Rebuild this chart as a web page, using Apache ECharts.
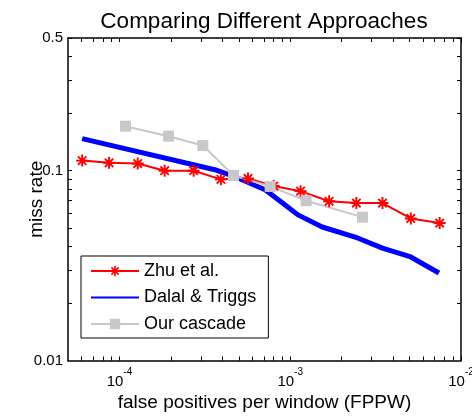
<!DOCTYPE html>
<html>
<head>
<meta charset="utf-8">
<script src="https://cdn.jsdelivr.net/npm/echarts@6/dist/echarts.min.js"></script>
<style>html,body{margin:0;padding:0;background:#fff}#c{width:472px;height:416px}</style>
</head>
<body>
<div id="c"></div>
<script>
// ---- data ----
const zhuX = [6.05e-5, 8.7e-5, 1.28e-4, 1.84e-4, 2.72e-4, 3.93e-4, 5.66e-4, 8.0e-4, 1.15e-3, 1.69e-3, 2.44e-3, 3.47e-3, 5.08e-3, 7.5e-3];
const zhuY = [0.113, 0.110, 0.109, 0.100, 0.100, 0.090, 0.091, 0.083, 0.078, 0.069, 0.0675, 0.0675, 0.056, 0.053];
const dalalX = [6.05e-5, 3.62e-4, 4.75e-4, 7.13e-4, 8.98e-4, 1.11e-3, 1.54e-3, 2.48e-3, 3.47e-3, 5.08e-3, 7.43e-3];
const dalalY = [0.1476, 0.1012, 0.0929, 0.0793, 0.0677, 0.0585, 0.0505, 0.0442, 0.0391, 0.0351, 0.0289];
const cascadeX = [1.085e-4, 1.94e-4, 3.08e-4, 4.66e-4, 7.63e-4, 1.24e-3, 2.65e-3];
const cascadeY = [0.1716, 0.152, 0.1356, 0.0944, 0.0826, 0.0694, 0.0569];
const seriesNames = ['Zhu et al.', 'Dalal & Triggs', 'Our cascade'];
const xLabelValues = [1e-4, 1e-3, 1e-2];
const yLabelValues = [0.01, 0.1, 0.5];
const xTickValues = [6e-5, 7e-5, 8e-5, 9e-5, 1e-4, 2e-4, 3e-4, 4e-4, 5e-4, 6e-4, 7e-4, 8e-4, 9e-4, 1e-3, 2e-3, 3e-3, 4e-3, 5e-3, 6e-3, 7e-3, 8e-3, 9e-3, 1e-2];
const yTickValues = [0.02, 0.03, 0.04, 0.05, 0.06, 0.07, 0.08, 0.09, 0.1, 0.2, 0.3, 0.4, 0.5];
const xMin = 5e-5, xMax = 1e-2, yMin = 0.01, yMax = 0.5;

const FONT = '"Liberation Sans", Arial, Helvetica, sans-serif';
const pair = (xs, ys) => xs.map((x, i) => [x, ys[i]]);
const asterisk = 'path://M0 8.4L20 8.4L20 11.6L0 11.6Z M8.4 0L11.6 0L11.6 20L8.4 20Z M1.9 4.1L4.1 1.9L18.1 15.9L15.9 18.1Z M15.9 1.9L18.1 4.1L4.1 18.1L1.9 15.9Z';

function xAx(pos, labels) {
  return {
    type: 'log', logBase: 10, min: xMin, max: xMax, position: pos,
    axisLine: { show: true, onZero: false, lineStyle: { color: '#000', width: 1.5 } },
    axisTick: { show: true, inside: true, length: 4, customValues: xTickValues, lineStyle: { color: '#000', width: 1 } },
    minorTick: { show: false }, splitLine: { show: false },
    axisLabel: labels ? {
      show: true, customValues: xLabelValues, margin: 7, color: '#000', fontFamily: FONT,
      hideOverlap: false,
      formatter: v => '{b|10}{s|' + Math.round(Math.log10(v)) + '}',
      rich: {
        b: { fontSize: 15, fontFamily: FONT, color: '#000', lineHeight: 22, verticalAlign: 'bottom' },
        s: { fontSize: 10, fontFamily: FONT, color: '#000', lineHeight: 14, verticalAlign: 'top' }
      }
    } : { show: false },
    name: labels ? 'false positives per window (FPPW)' : '', nameLocation: 'middle', nameGap: 33,
    nameMoveOverlap: false,
    nameTextStyle: { fontSize: 19, fontFamily: FONT, color: '#000' }
  };
}
function yAx(pos, labels) {
  return {
    type: 'log', logBase: 10, min: yMin, max: yMax, position: pos,
    axisLine: { show: true, onZero: false, lineStyle: { color: '#000', width: 1.5 } },
    axisTick: { show: true, inside: true, length: 4, customValues: yTickValues, lineStyle: { color: '#000', width: 1 } },
    minorTick: { show: false }, splitLine: { show: false },
    axisLabel: labels ? {
      show: true, customValues: yLabelValues, margin: 5, color: '#000', fontSize: 15, fontFamily: FONT,
      formatter: v => String(+(+v).toPrecision(2))
    } : { show: false },
    name: labels ? 'miss rate' : '', nameLocation: 'middle', nameGap: 22, nameRotate: 90,
    nameMoveOverlap: false,
    nameTextStyle: { fontSize: 19, fontFamily: FONT, color: '#000' }
  };
}

const chart = echarts.init(document.getElementById('c'), null, { renderer: 'canvas' });
chart.setOption({
  animation: false,
  backgroundColor: '#fff',
  title: {
    text: 'Comparing Different Approaches', left: 259, top: 5, textAlign: 'center',
    textStyle: { fontSize: 22.5, fontWeight: 'normal', fontFamily: FONT, color: '#000' }
  },
  grid: { left: 68, right: 11, top: 38, bottom: 55.5, containLabel: false, outerBoundsMode: 'none' },
  xAxis: [xAx('bottom', true), xAx('top', false)],
  yAxis: [yAx('left', true), yAx('right', false)],
  legend: {
    orient: 'vertical', left: 81, top: 256,
    padding: [5, 12, 4, 9], itemGap: 6.5, itemWidth: 48, itemHeight: 13,
    backgroundColor: '#fff', borderColor: '#000', borderWidth: 1, borderRadius: 0,
    textStyle: { fontSize: 18, fontFamily: FONT, color: '#000', lineHeight: 20 },
    data: [
      { name: seriesNames[0] },
      { name: seriesNames[1], itemStyle: { color: 'rgba(0,0,0,0)', borderWidth: 0, opacity: 0 } },
      { name: seriesNames[2] }
    ]
  },
  series: [
    {
      name: seriesNames[0], type: 'line', xAxisIndex: 0, yAxisIndex: 0,
      data: pair(zhuX, zhuY), symbol: asterisk, symbolSize: 12, showSymbol: true, showAllSymbol: true,
      lineStyle: { color: '#ff0000', width: 2 }, itemStyle: { color: '#ff0000' }
    },
    {
      name: seriesNames[1], type: 'line', xAxisIndex: 0, yAxisIndex: 0,
      data: pair(dalalX, dalalY), symbol: 'none', showSymbol: false,
      lineStyle: { color: '#0000ff', width: 5 }, itemStyle: { color: '#0000ff' }
    },
    {
      name: seriesNames[2], type: 'line', xAxisIndex: 0, yAxisIndex: 0,
      data: pair(cascadeX, cascadeY), symbol: 'rect', symbolSize: 11, showSymbol: true, showAllSymbol: true,
      lineStyle: { color: '#c8c8c8', width: 2 }, itemStyle: { color: '#c8c8c8' }
    }
  ]
});
</script>
</body>
</html>
